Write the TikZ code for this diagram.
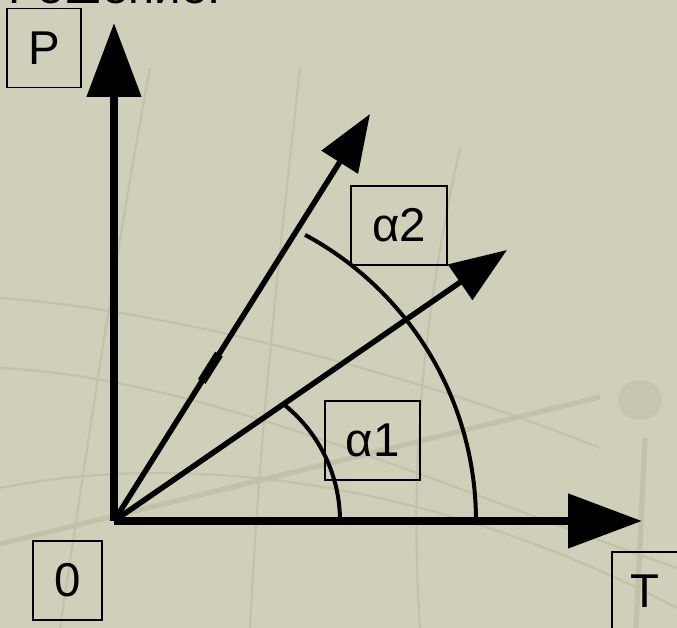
\documentclass[tikz,border=0pt]{standalone}
\usepackage{fontspec}
\setmainfont{Liberation Sans}
\usetikzlibrary{arrows.meta,calc}
\definecolor{fon}{RGB}{208,207,186}
\definecolor{fonline}{RGB}{194,193,170}
\begin{document}
\begin{tikzpicture}[x=0.02cm,y=0.02cm,
	axis/.style={line width=0.16cm,-{Triangle[length=1.48cm,width=1.06cm]}},
	vec/.style={line width=0.11cm,-{Triangle[length=1.14cm,width=0.84cm]}},
	lbl/.style={draw,line width=1.1pt,inner sep=0pt,minimum height=1.58cm,font=\fontsize{27}{32}\selectfont},
	bgline/.style={fonline,line width=1.2pt}]
	
	\def\W{677}
	\def\H{628}
	\fill[fon] (0,0) rectangle (\W,\H);
	\useasboundingbox (0,0) rectangle (\W,\H);
	% faint background lines
	\draw[bgline,line width=3pt] (0,84)--(600,231);
	\draw[bgline,line width=3pt] (645,190)--(636,0);
	\fill[fonline!70!fon] (640,228) ellipse (22 and 20);
	\draw[bgline] (0,260) .. controls (200,250) and (420,150) .. (677,60);
	\draw[bgline] (0,330) .. controls (150,320) and (400,260) .. (600,180);
	\draw[bgline] (60,0) .. controls (90,200) and (120,400) .. (150,560);
	\draw[bgline] (250,0) .. controls (260,200) and (280,380) .. (300,560);
	\draw[bgline] (420,0) .. controls (410,150) and (420,300) .. (460,480);
	\draw[bgline] (0,140) .. controls (200,180) and (450,140) .. (677,20);
	
	\node[anchor=base west,inner sep=0pt,font=\fontsize{27}{32}\selectfont] (title) at (8,624) {Решение:};
	
	\coordinate (O) at (114,107);
	\coordinate (Ptip) at (114,605);
	\coordinate (Ttip) at (642,107);
	\coordinate (A1) at (507,378);
	\coordinate (A2) at (370,514);
	
	\draw[axis] (O)--(Ptip);
	\draw[axis] (O)--(Ttip);
	\draw[vec] (O)--(A1);
	\draw[vec] (O)--(A2);
	\draw[line width=0.18cm] ($(O)!0.343!(A2)$)--($(O)!0.41!(A2)$);
	
	% arcs of the angles
	\draw[line width=0.08cm] (340,107) arc[start angle=0,end angle=52.4,radius=149];
	\draw[line width=0.08cm] (476,107) arc[start angle=0,end angle=61.7,radius=325];
	
	\node[lbl,minimum width=1.48cm] (P) at (44,580) {P};
	\node[lbl,minimum width=1.92cm] (a2) at (399,402.5) {α2};
	\node[lbl,minimum width=1.9cm] (a1) at (372.5,187.5) {α1};
	\node[lbl,minimum width=1.38cm] (zero) at (67.5,47.5) {0};
	\node[lbl,minimum width=1.32cm] (T) at (645,36.5) {T};
	
\end{tikzpicture}
\end{document}
